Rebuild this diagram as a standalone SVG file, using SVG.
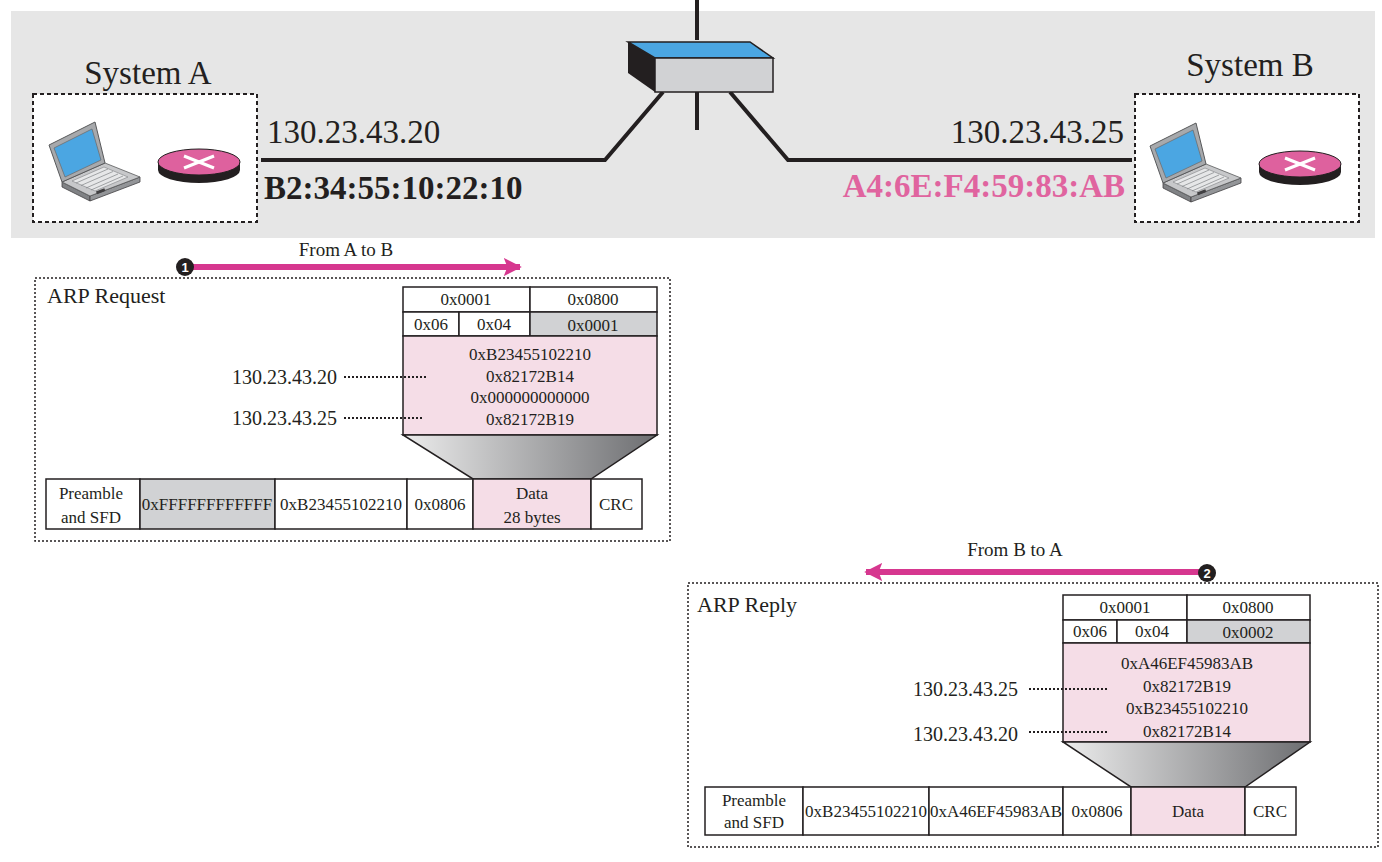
<svg xmlns="http://www.w3.org/2000/svg" width="1382" height="862" viewBox="0 0 1382 862">
<style>
text{font-family:"Liberation Serif","Times New Roman",serif;fill:#231F20}
.big{font-size:33px}
.mac{font-size:33px;font-weight:bold}
.lbl{font-size:22px}
.sm{font-size:17px}
.ip{font-size:20px}
.fr{font-size:19px}
.mid{text-anchor:middle}
.end{text-anchor:end}
.cell{fill:#fff;stroke:#231F20;stroke-width:1.5}
.gray{fill:#D1D2D4;stroke:#231F20;stroke-width:1.5}
.pink{fill:#F5DDE7;stroke:#231F20;stroke-width:1.5}
.wire{fill:none;stroke:#231F20;stroke-width:4}
.dot{stroke:#231F20;stroke-width:2.2;stroke-dasharray:2 2;fill:none}
.sysbox{fill:#fff;stroke:#231F20;stroke-width:2;stroke-dasharray:4 3}
.arpbox{fill:none;stroke:#231F20;stroke-width:1.5;stroke-dasharray:2 2}
.flow{stroke:#D6378F;stroke-width:6;fill:none}
.num{font-family:"Liberation Sans",Arial,sans-serif;font-size:13px;font-weight:bold;fill:#fff}
</style>
<defs>
<linearGradient id="fun" x1="0" y1="0" x2="1" y2="0">
<stop offset="0" stop-color="#ECECEC"/>
<stop offset="1" stop-color="#6D6E71"/>
</linearGradient>
<marker id="ah" viewBox="0 0 10 10" refX="9" refY="5" markerWidth="3" markerHeight="3" orient="auto" markerUnits="strokeWidth">
<path d="M0,0 L10,5 L0,10 L2,5 Z" fill="#D6378F"/>
</marker>
<g id="laptop">
<polygon points="62,182 90,196 90,201 62,187" fill="#808285" stroke="#414042" stroke-width="0.8"/>
<polygon points="90,196 140,177 140,182 90,201" fill="#939598" stroke="#414042" stroke-width="0.8"/>
<polygon points="62,182 105,163 140,177 90,196" fill="#C7C8CA" stroke="#58595B" stroke-width="0.8"/>
<polygon points="72,181 104,167 128,177 95,191" fill="#E6E7E8" stroke="#808285" stroke-width="0.6"/>
<g stroke="#808285" stroke-width="0.7">
<line x1="76" y1="183" x2="108" y2="169"/>
<line x1="81" y1="185.5" x2="113" y2="171.5"/>
<line x1="86" y1="188" x2="118" y2="174"/>
<line x1="91" y1="190" x2="123" y2="176"/>
</g>
<rect x="96" y="190" width="9" height="3" fill="#414042" transform="rotate(-21 100 191)"/>
<polygon points="49,145 95,122 105,163 62,182" fill="#A7A9AC" stroke="#58595B" stroke-width="1"/>
<polygon points="54,148 92,129 101,160 65,177" fill="#4BA6E2" stroke="#6D6E71" stroke-width="0.8"/>
</g>
<g id="router">
<path d="M158,162 L158,170 A41,13 0 0 0 240,170 L240,162 Z" fill="#231F20"/>
<ellipse cx="199" cy="162" rx="41" ry="13" fill="#DE619E" stroke="#231F20" stroke-width="1"/>
<line x1="184" y1="156" x2="214" y2="168" stroke="#fff" stroke-width="3"/>
<line x1="184" y1="168" x2="214" y2="156" stroke="#fff" stroke-width="3"/>
</g>
</defs>
<rect width="1382" height="862" fill="#fff"/>
<rect x="11" y="11" width="1364" height="227" fill="#E6E6E6"/>

<g id="connectors">
<line x1="697" y1="0" x2="697" y2="40" class="wire"/>
<polyline points="261,160 605,160 663,92" class="wire"/>
<polyline points="730,92 788,160 1132,160" class="wire"/>
<line x1="697" y1="92" x2="697" y2="130" class="wire"/>
</g>

<g id="switch">
<polygon points="628,42 655,58 655,92 628,73" fill="#231F20"/>
<polygon points="628,42 750,42 773,58 655,58" fill="#4BA6E2" stroke="#231F20" stroke-width="1.5"/>
<rect x="655" y="58" width="118" height="34" fill="#D1D2D4" stroke="#231F20" stroke-width="1.5"/>
</g>

<g id="systemA">
<text x="148" y="84" class="big mid">System A</text>
<rect x="33" y="94" width="224" height="128" class="sysbox"/>
<use href="#laptop"/>
<use href="#router"/>
<text x="267" y="143" class="big">130.23.43.20</text>
<text x="264" y="199" class="mac">B2:34:55:10:22:10</text>
</g>

<g id="systemB">
<text x="1250" y="76" class="big mid">System B</text>
<rect x="1135" y="94" width="224" height="128" class="sysbox"/>
<use href="#laptop" transform="translate(1101,1)"/>
<use href="#router" transform="translate(1101,2)"/>
<text x="1124" y="143" class="big end">130.23.43.25</text>
<text x="1125" y="197" class="mac end" style="fill:#E0649F">A4:6E:F4:59:83:AB</text>
</g>

<g id="flowAB">
<text x="346" y="256" class="fr mid">From A to B</text>
<line x1="190" y1="267" x2="520" y2="267" class="flow" marker-end="url(#ah)"/>
<circle cx="185" cy="267" r="9" fill="#231F20"/>
<text x="185" y="272" class="num mid">1</text>
</g>

<g id="arpRequest">
<rect x="35" y="278" width="635" height="263" class="arpbox"/>
<text x="47" y="303" class="lbl">ARP Request</text>
<rect x="403" y="287" width="127" height="25" class="cell"/>
<rect x="530" y="287" width="127" height="25" class="cell"/>
<rect x="403" y="312" width="56" height="24" class="cell"/>
<rect x="459" y="312" width="71" height="24" class="cell"/>
<rect x="530" y="312" width="127" height="24" class="gray"/>
<rect x="403" y="336" width="254" height="99" class="pink"/>
<text x="466" y="305" class="sm mid">0x0001</text>
<text x="593" y="305" class="sm mid">0x0800</text>
<text x="431" y="330" class="sm mid">0x06</text>
<text x="494" y="330" class="sm mid">0x04</text>
<text x="593" y="331" class="sm mid">0x0001</text>
<text x="530" y="360" class="sm mid">0xB23455102210</text>
<text x="530" y="382" class="sm mid">0x82172B14</text>
<text x="530" y="403" class="sm mid">0x000000000000</text>
<text x="530" y="425" class="sm mid">0x82172B19</text>
<text x="337" y="384" class="ip end">130.23.43.20</text>
<line x1="344" y1="377" x2="428" y2="377" class="dot"/>
<text x="337" y="425" class="ip end">130.23.43.25</text>
<line x1="344" y1="418" x2="424" y2="418" class="dot"/>
<polygon points="403,435 657,435 591,479 473,479" fill="url(#fun)" stroke="#231F20" stroke-width="1.5"/>
<rect x="46" y="479" width="94" height="50" class="cell"/>
<rect x="140" y="479" width="135" height="50" class="gray"/>
<rect x="275" y="479" width="132" height="50" class="cell"/>
<rect x="407" y="479" width="66" height="50" class="cell"/>
<rect x="473" y="479" width="118" height="50" class="pink"/>
<rect x="591" y="479" width="51" height="50" class="cell"/>
<text x="91" y="499" class="sm mid">Preamble</text>
<text x="91" y="523" class="sm mid">and SFD</text>
<text x="207" y="510" class="sm mid">0xFFFFFFFFFFFF</text>
<text x="341" y="510" class="sm mid">0xB23455102210</text>
<text x="440" y="510" class="sm mid">0x0806</text>
<text x="532" y="499" class="sm mid">Data</text>
<text x="532" y="523" class="sm mid">28 bytes</text>
<text x="616" y="510" class="sm mid">CRC</text>
</g>

<g id="flowBA">
<text x="1015" y="556" class="fr mid">From B to A</text>
<line x1="1202" y1="572" x2="866" y2="572" class="flow" marker-end="url(#ah)"/>
<circle cx="1207" cy="573" r="9" fill="#231F20"/>
<text x="1207" y="578" class="num mid">2</text>
</g>

<g id="arpReply">
<rect x="688" y="583" width="690" height="264" class="arpbox"/>
<text x="697" y="612" class="lbl">ARP Reply</text>
<rect x="1063" y="595" width="124" height="25" class="cell"/>
<rect x="1187" y="595" width="123" height="25" class="cell"/>
<rect x="1063" y="620" width="54" height="23" class="cell"/>
<rect x="1117" y="620" width="70" height="23" class="cell"/>
<rect x="1187" y="620" width="123" height="23" class="gray"/>
<rect x="1063" y="643" width="247" height="99" class="pink"/>
<text x="1125" y="613" class="sm mid">0x0001</text>
<text x="1248" y="613" class="sm mid">0x0800</text>
<text x="1090" y="637" class="sm mid">0x06</text>
<text x="1152" y="637" class="sm mid">0x04</text>
<text x="1248" y="638" class="sm mid">0x0002</text>
<text x="1187" y="669" class="sm mid">0xA46EF45983AB</text>
<text x="1187" y="692" class="sm mid">0x82172B19</text>
<text x="1187" y="714" class="sm mid">0xB23455102210</text>
<text x="1187" y="737" class="sm mid">0x82172B14</text>
<text x="1018" y="696" class="ip end">130.23.43.25</text>
<line x1="1029" y1="689" x2="1108" y2="689" class="dot"/>
<text x="1018" y="741" class="ip end">130.23.43.20</text>
<line x1="1029" y1="732" x2="1108" y2="732" class="dot"/>
<polygon points="1063,742 1310,742 1245,787 1131,787" fill="url(#fun)" stroke="#231F20" stroke-width="1.5"/>
<rect x="705" y="787" width="98" height="48" class="cell"/>
<rect x="803" y="787" width="126" height="48" class="cell"/>
<rect x="929" y="787" width="134" height="48" class="cell"/>
<rect x="1063" y="787" width="68" height="48" class="cell"/>
<rect x="1131" y="787" width="114" height="48" class="pink"/>
<rect x="1245" y="787" width="51" height="48" class="cell"/>
<text x="754" y="806" class="sm mid">Preamble</text>
<text x="754" y="828" class="sm mid">and SFD</text>
<text x="866" y="817" class="sm mid">0xB23455102210</text>
<text x="996" y="817" class="sm mid">0xA46EF45983AB</text>
<text x="1097" y="817" class="sm mid">0x0806</text>
<text x="1188" y="817" class="sm mid">Data</text>
<text x="1270" y="817" class="sm mid">CRC</text>
</g>
</svg>
